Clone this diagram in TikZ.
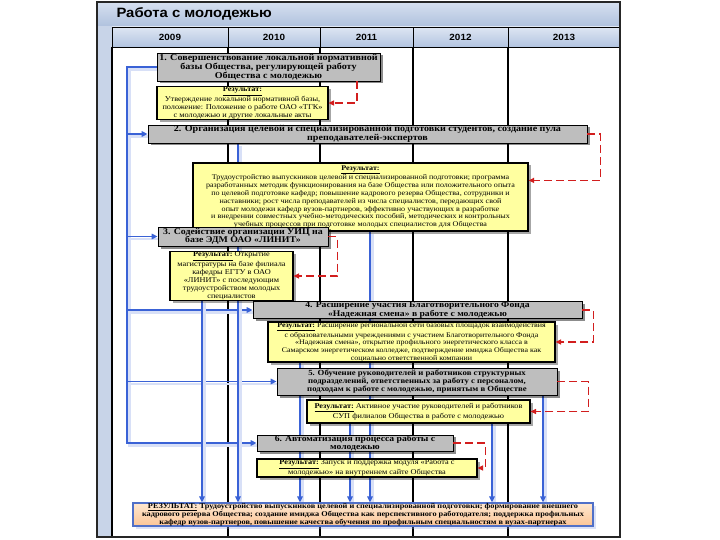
\documentclass[tikz,border=0pt]{standalone}
\usepackage{fontspec}
\setmainfont{Liberation Serif}[FakeStretch=1.12]
\newfontfamily\arialf{Liberation Sans}[FakeStretch=1.1]
\usetikzlibrary{arrows.meta,shadows,calc}
\definecolor{blc}{RGB}{58,98,214}
\definecolor{rdc}{RGB}{210,30,30}
\definecolor{gboxc}{RGB}{190,190,190}
\definecolor{yelc}{RGB}{255,255,160}
\definecolor{titT}{RGB}{214,224,240}
\definecolor{titB}{RGB}{176,194,222}
\definecolor{yrT}{RGB}{222,230,243}
\definecolor{yrB}{RGB}{178,196,224}
\definecolor{stripc}{RGB}{200,212,232}
\definecolor{finT}{RGB}{255,232,208}
\definecolor{finB}{RGB}{250,196,150}
\definecolor{finD}{RGB}{80,112,200}
\pgfdeclarelayer{bg}
\pgfdeclarelayer{lines}
\pgfsetlayers{bg,lines,main}
\newcommand\myres{\textbf{\underline{Результат:}}}
\begin{document}
\begin{tikzpicture}[x=1pt,y=-1pt,
 gbox/.style={draw=black, line width=0.8pt, fill=gboxc, inner sep=0.3pt, align=center,
   font=\bfseries\fontsize{9}{8.7}\selectfont,
   drop shadow={shadow xshift=2.5pt, shadow yshift=-2.5pt, opacity=0.45, fill=black}},
 ybox/.style={draw=black, line width=1.2pt, fill=yelc, inner sep=0.3pt, align=center,
   font=\fontsize{7.4}{7.9}\selectfont,
   drop shadow={shadow xshift=2.5pt, shadow yshift=-2.5pt, opacity=0.35, fill=black}},
 fbox/.style={draw=finD, line width=1.2pt, top color=finT, bottom color=finB, inner sep=0.3pt, align=center,
   font=\bfseries\fontsize{7.4}{7.2}\selectfont,
   drop shadow={shadow xshift=2.5pt, shadow yshift=-2.5pt, opacity=0.3, fill=blc!60}},
 bl/.style={draw=blc, line width=1.6pt, -{Triangle[length=6pt,width=5.5pt]},
   preaction={draw=blc!20, line width=2.5pt, arrows=-, transform canvas={shift={(2.5pt,-2.5pt)}}}},
 rd/.style={draw=rdc, line width=1.3pt, dash pattern=on 8pt off 4pt, -{Triangle[length=5.5pt,width=5pt]}},
 col/.style={draw=black, line width=1.2pt},
 yr/.style={font=\arialf\bfseries\fontsize{9}{9}\selectfont}
]
\useasboundingbox (0,0) rectangle (720,540);
% frame
\begin{pgfonlayer}{bg}
\fill[white] (0,0) rectangle (720,540);
\fill[stripc] (97,26) rectangle (112,537);
\shade[top color=titT, bottom color=titB] (97,2) rectangle (620,26);
\foreach \a/\b in {112/228,228/320,320/413,413/508,508/620}{
  \shade[top color=yrT, bottom color=yrB] (\a,27) rectangle (\b,47);
  \draw[black, line width=0.8pt] (\a,27) rectangle (\b,47);
}
\foreach \xx in {112,228,320,413,508}{ \draw[col] (\xx,47) -- (\xx,537); }
\draw[black!85, line width=1.2pt] (97,2) rectangle (620,537);
\end{pgfonlayer}
\node[font=\arialf\bfseries\fontsize{13.5}{13.5}\selectfont, anchor=west] (title) at (113,14) {Работа с молодежью};
\node[yr] (y2009) at (170,37) {2009};
\node[yr] (y2010) at (274,37) {2010};
\node[yr] (y2011) at (366.5,37) {2011};
\node[yr] (y2012) at (460.5,37) {2012};
\node[yr] (y2013) at (564,37) {2013};
% boxes
\node[gbox, minimum width=223pt, minimum height=28pt] (b1) at (268.5,67)
 {1. Совершенствование локальной нормативной\\ базы Общества, регулирующей работу\\ Общества с молодежью};
\node[ybox, minimum width=171pt, minimum height=32pt] (r1) at (242.5,103)
 {\myres\\ Утверждение локальной нормативной базы,\\ положение: Положение о работе ОАО «ТГК»\\ с молодежью и другие локальные акты};
\node[gbox, minimum width=439pt, minimum height=18pt] (b2) at (367.5,134)
 {2. Организация целевой и специализированной подготовки студентов, создание пула\\ преподавателей-экспертов};
\node[ybox, minimum width=335pt, minimum height=68pt, font=\fontsize{7.2}{7.8}\selectfont] (r2) at (360.5,197)
 {\myres\\
 Трудоустройство выпускников целевой и специализированной подготовки; программа\\
 разработанных методик функционирования на базе Общества или положительного опыта\\
 по целевой подготовке кафедр; повышение кадрового резерва Общества, сотрудники и\\
 наставники; рост числа преподавателей из числа специалистов, передающих свой\\
 опыт молодежи кафедр вузов-партнеров, эффективно участвующих в разработке\\
 и внедрении совместных учебно-методических пособий, методических и контрольных\\
 учебных процессов при подготовке молодых специалистов для Общества};
\node[gbox, minimum width=170pt, minimum height=19pt, font=\bfseries\fontsize{8.8}{8.4}\selectfont] (b3) at (243,236.5)
 {3. Содействие организации УИЦ на\\ базе ЭДМ ОАО «ЛИНИТ»};
\node[ybox, minimum width=123pt, minimum height=48pt] (r3) at (231.5,276)
 {\myres{} Открытие\\ магистратуры на базе филиала\\ кафедры ЕГТУ в ОАО\\ «ЛИНИТ» с последующим\\ трудоустройством молодых\\ специалистов};
\node[gbox, minimum width=329pt, minimum height=16pt, font=\bfseries\fontsize{8.6}{7.8}\selectfont] (b4) at (417.5,310)
 {4. Расширение участия Благотворительного Фонда\\ «Надежная смена» в работе с молодежью};
\node[ybox, minimum width=287pt, minimum height=40pt, font=\fontsize{7.1}{7.7}\selectfont] (r4) at (411.5,342)
 {\myres{} Расширение региональной сети базовых площадок взаимодействия\\
 с образовательными учреждениями с участием Благотворительного Фонда\\
 «Надежная смена», открытие профильного энергетического класса в\\
 Самарском энергетическом колледже, подтверждение имиджа Общества как\\
 социально ответственной компании};
\node[gbox, minimum width=280pt, minimum height=27pt, font=\bfseries\fontsize{7.8}{8.4}\selectfont] (b5) at (417,381.5)
 {5. Обучение руководителей и работников структурных\\ подразделений, ответственных за работу с персоналом,\\ подходам к работе с молодежью, принятым в Обществе};
\node[ybox, minimum width=223pt, minimum height=23pt] (r5) at (418.5,411.5)
 {\myres{} Активное участие руководителей и работников\\ СУП филиалов Общества в работе с молодежью};
\node[gbox, minimum width=196pt, minimum height=16pt, font=\bfseries\fontsize{8.6}{7.8}\selectfont] (b6) at (355,443)
 {6. Автоматизация процесса работы с\\ молодежью};
\node[ybox, minimum width=220pt, minimum height=18pt] (r6) at (367,468)
 {\myres{} Запуск и поддержка модуля «Работа с\\ молодежью» на внутреннем сайте Общества};
\node[fbox, minimum width=460pt, minimum height=23pt] (fin) at (363,514.5)
 {\underline{РЕЗУЛЬТАТ:} Трудоустройство выпускников целевой и специализированной подготовки; формирование внешнего\\
 кадрового резерва Общества; создание имиджа Общества как перспективного работодателя; поддержка профильных\\
 кафедр вузов-партнеров, повышение качества обучения по профильным специальностям в вузах-партнерах};
% connectors
\coordinate (tx) at (127,0);
\foreach \n/\xx in {v202/202,v238/238,v300/300,v350/350,v370/370,v492/492,v543/543,v357/357}{\coordinate (\n) at (\xx,0);}
\begin{pgfonlayer}{lines}
\draw[bl] (b1.west) -| (tx |- b6.west) -- (b6.west);
\draw[bl] (tx |- b2.west) -- (b2.west);
\draw[bl] (tx |- b3.west) -- (b3.west);
\draw[bl] (tx |- b4.west) -- (b4.west);
\draw[bl] (tx |- b5.west) -- (b5.west);
\draw[bl] (v202 |- r3.south) -- (v202 |- fin.north);
\draw[bl] (v238 |- b2.south) -- (v238 |- fin.north);
\draw[bl] (v300 |- r4.south) -- (v300 |- fin.north);
\draw[bl] (v350 |- r5.south) -- (v350 |- fin.north);
\draw[bl] (v370 |- r2.south) -- (v370 |- fin.north);
\draw[bl] (v492 |- r5.south) -- (v492 |- fin.north);
\draw[bl] (v543 |- b5.south) -- (v543 |- fin.north);
\end{pgfonlayer}
\draw[rd] (v357 |- b1.south) |- (r1.east);
\draw[rd] (b2.east) -- ++(13,0) |- ([yshift=-18pt]r2.north east);
\draw[rd] (b3.east) -- ++(9,0) |- (r3.east);
\draw[rd] (b4.east) -- ++(11,0) |- (r4.east);
\draw[rd] (b5.east) -- ++(31,0) |- (r5.east);
\draw[rd] (b6.east) -- ++(32,0) |- (r6.east);
\end{tikzpicture}
\end{document}
